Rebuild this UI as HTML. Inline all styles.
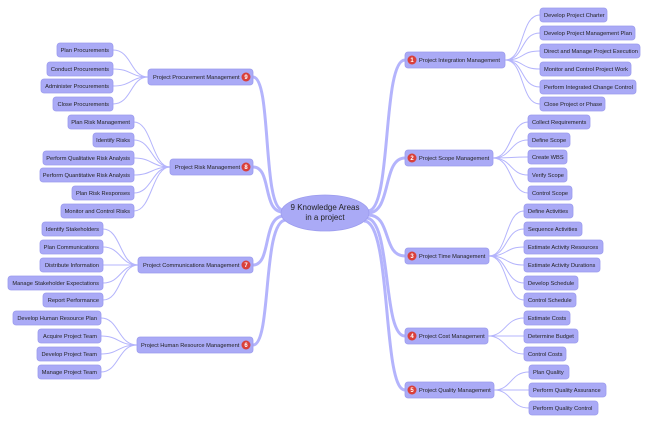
<!DOCTYPE html>
<html><head><meta charset="utf-8"><style>
html,body{margin:0;padding:0;background:#fff;width:650px;height:423px;overflow:hidden}
text{font-family:"Liberation Sans",sans-serif;font-size:5.7px;fill:#222}
.b{fill:#aaaaf6;stroke:#9c9cee;stroke-width:0.8}
.l{fill:none;stroke:#b4b4fc;stroke-width:1}
.m{fill:none;stroke:#b4b4fc;stroke-width:3}
</style></head><body>
<svg width="650" height="423" viewBox="0 0 650 423" xmlns="http://www.w3.org/2000/svg">
<path class="m" d="M368 211 C392 211 382 60 405 60"/>
<path class="m" d="M368 213 C392 213 382 158 405 158"/>
<path class="m" d="M368 215 C392 215 382 256 405 256"/>
<path class="m" d="M366 218 C392 218 382 336 405 336"/>
<path class="m" d="M364 221 C392 221 382 390 405 390"/>
<path class="m" d="M283 210 C262 210 272 77 253 77"/>
<path class="m" d="M283 212 C262 212 272 167 253 167"/>
<path class="m" d="M284 216 C262 216 272 265 253 265"/>
<path class="m" d="M286 220 C262 220 272 345 253 345"/>
<ellipse cx="325" cy="213" rx="44" ry="18" fill="#aaaaf6" stroke="#9c9cee" stroke-width="0.8"/>
<text x="325" y="210" text-anchor="middle" style="font-size:8px">9 Knowledge Areas</text>
<text x="325" y="220" text-anchor="middle" style="font-size:8px">in a project</text>

<g class="l">
<path d="M505 60 C525 60 520 15 540 15"/><path d="M505 60 C525 60 520 33 540 33"/><path d="M505 60 C525 60 520 51 540 51"/><path d="M505 60 C525 60 520 69 540 69"/><path d="M505 60 C525 60 520 87 540 87"/><path d="M505 60 C525 60 520 104 540 104"/>
<path d="M493 158 C512 158 510 122 528 122"/><path d="M493 158 C512 158 510 140 528 140"/><path d="M493 158 C512 158 510 157 528 157"/><path d="M493 158 C512 158 510 175 528 175"/><path d="M493 158 C512 158 510 193 528 193"/>
<path d="M489 256 C508 256 505 211 524 211"/><path d="M489 256 C508 256 505 229 524 229"/><path d="M489 256 C508 256 505 247 524 247"/><path d="M489 256 C508 256 505 265 524 265"/><path d="M489 256 C508 256 505 283 524 283"/><path d="M489 256 C508 256 505 300 524 300"/>
<path d="M488 336 C506 336 505 318 524 318"/><path d="M488 336 C506 336 505 336 524 336"/><path d="M488 336 C506 336 505 354 524 354"/>
<path d="M494 390 C512 390 510 372 529 372"/><path d="M494 390 C512 390 510 390 529 390"/><path d="M494 390 C512 390 510 408 529 408"/>
<path d="M148 77 C130 77 132 50 113 50"/><path d="M148 77 C130 77 132 69 113 69"/><path d="M148 77 C130 77 132 86 113 86"/><path d="M148 77 C130 77 132 104 113 104"/>
<path d="M170 167 C152 167 152 122 134 122"/><path d="M170 167 C152 167 152 140 134 140"/><path d="M170 167 C152 167 152 158 134 158"/><path d="M170 167 C152 167 152 175 134 175"/><path d="M170 167 C152 167 152 193 134 193"/><path d="M170 167 C152 167 152 211 134 211"/>
<path d="M138 265 C120 265 121 229 103 229"/><path d="M138 265 C120 265 121 247 103 247"/><path d="M138 265 C120 265 121 265 103 265"/><path d="M138 265 C120 265 121 283 103 283"/><path d="M138 265 C120 265 121 300 103 300"/>
<path d="M137 345 C118 345 119 318 101 318"/><path d="M137 345 C118 345 119 336 101 336"/><path d="M137 345 C118 345 119 354 101 354"/><path d="M137 345 C118 345 119 372 101 372"/>
</g>

<g>
<rect class="b" x="405" y="52" width="100" height="16" rx="3"/><circle cx="412" cy="60" r="4.5" fill="#d9403a"/><text x="412" y="62.2" text-anchor="middle" style="fill:#fff;font-weight:bold;font-size:6px">1</text><text x="419" y="62.2">Project Integration Management</text>
<rect class="b" x="405" y="150" width="88" height="16" rx="3"/><circle cx="412" cy="158" r="4.5" fill="#d9403a"/><text x="412" y="160.2" text-anchor="middle" style="fill:#fff;font-weight:bold;font-size:6px">2</text><text x="419" y="160.2">Project Scope Management</text>
<rect class="b" x="405" y="248" width="84" height="16" rx="3"/><circle cx="412" cy="256" r="4.5" fill="#d9403a"/><text x="412" y="258.2" text-anchor="middle" style="fill:#fff;font-weight:bold;font-size:6px">3</text><text x="419" y="258.2">Project Time Management</text>
<rect class="b" x="405" y="328" width="83" height="16" rx="3"/><circle cx="412" cy="336" r="4.5" fill="#d9403a"/><text x="412" y="338.2" text-anchor="middle" style="fill:#fff;font-weight:bold;font-size:6px">4</text><text x="419" y="338.2">Project Cost Management</text>
<rect class="b" x="405" y="382" width="89" height="16" rx="3"/><circle cx="412" cy="390" r="4.5" fill="#d9403a"/><text x="412" y="392.2" text-anchor="middle" style="fill:#fff;font-weight:bold;font-size:6px">5</text><text x="419" y="392.2">Project Quality Management</text>
<rect class="b" x="148" y="69" width="105" height="16" rx="3"/><text x="153" y="79.2">Project Procurement Management</text><circle cx="246" cy="77" r="4.5" fill="#d9403a"/><text x="246" y="79.2" text-anchor="middle" style="fill:#fff;font-weight:bold;font-size:6px">9</text>
<rect class="b" x="170" y="159" width="83" height="16" rx="3"/><text x="175" y="169.2">Project Risk Management</text><circle cx="246" cy="167" r="4.5" fill="#d9403a"/><text x="246" y="169.2" text-anchor="middle" style="fill:#fff;font-weight:bold;font-size:6px">8</text>
<rect class="b" x="138" y="257" width="115" height="16" rx="3"/><text x="143" y="267.2">Project Communications Management</text><circle cx="246" cy="265" r="4.5" fill="#d9403a"/><text x="246" y="267.2" text-anchor="middle" style="fill:#fff;font-weight:bold;font-size:6px">7</text>
<rect class="b" x="137" y="337" width="116" height="16" rx="3"/><text x="141" y="347.2">Project Human Resource Management</text><circle cx="246" cy="345" r="4.5" fill="#d9403a"/><text x="246" y="347.2" text-anchor="middle" style="fill:#fff;font-weight:bold;font-size:6px">6</text>
</g>

<g>
<rect class="b" x="540" y="8" width="67" height="14" rx="3"/><text x="544" y="17">Develop Project Charter</text>
<rect class="b" x="540" y="26" width="95" height="14" rx="3"/><text x="544" y="35">Develop Project Management Plan</text>
<rect class="b" x="540" y="44" width="100" height="14" rx="3"/><text x="544" y="53">Direct and Manage Project Execution</text>
<rect class="b" x="540" y="62" width="91" height="14" rx="3"/><text x="544" y="71">Monitor and Control Project Work</text>
<rect class="b" x="540" y="80" width="96" height="14" rx="3"/><text x="544" y="89">Perform Integrated Change Control</text>
<rect class="b" x="540" y="97" width="65" height="14" rx="3"/><text x="544" y="106">Close Project or Phase</text>
<rect class="b" x="528" y="115" width="62" height="14" rx="3"/><text x="532" y="124">Collect Requirements</text>
<rect class="b" x="528" y="133" width="42" height="14" rx="3"/><text x="532" y="142">Define Scope</text>
<rect class="b" x="528" y="150" width="39" height="14" rx="3"/><text x="532" y="159">Create WBS</text>
<rect class="b" x="528" y="168" width="39" height="14" rx="3"/><text x="532" y="177">Verify Scope</text>
<rect class="b" x="528" y="186" width="44" height="14" rx="3"/><text x="532" y="195">Control Scope</text>
<rect class="b" x="524" y="204" width="49" height="14" rx="3"/><text x="528" y="213">Define Activities</text>
<rect class="b" x="524" y="222" width="58" height="14" rx="3"/><text x="528" y="231">Sequence Activities</text>
<rect class="b" x="524" y="240" width="79" height="14" rx="3"/><text x="528" y="249">Estimate Activity Resources</text>
<rect class="b" x="524" y="258" width="76" height="14" rx="3"/><text x="528" y="267">Estimate Activity Durations</text>
<rect class="b" x="524" y="276" width="54" height="14" rx="3"/><text x="528" y="285">Develop Schedule</text>
<rect class="b" x="524" y="293" width="52" height="14" rx="3"/><text x="528" y="302">Control Schedule</text>
<rect class="b" x="524" y="311" width="46" height="14" rx="3"/><text x="528" y="320">Estimate Costs</text>
<rect class="b" x="524" y="329" width="54" height="14" rx="3"/><text x="528" y="338">Determine Budget</text>
<rect class="b" x="524" y="347" width="42" height="14" rx="3"/><text x="528" y="356">Control Costs</text>
<rect class="b" x="529" y="365" width="40" height="14" rx="3"/><text x="533" y="374">Plan Quality</text>
<rect class="b" x="529" y="383" width="77" height="14" rx="3"/><text x="533" y="392">Perform Quality Assurance</text>
<rect class="b" x="529" y="401" width="69" height="14" rx="3"/><text x="533" y="410">Perform Quality Control</text>
</g>
<g text-anchor="end">
<rect class="b" x="57" y="43" width="56" height="14" rx="3"/><text x="109" y="52">Plan Procurements</text>
<rect class="b" x="47" y="62" width="66" height="14" rx="3"/><text x="109" y="71">Conduct Procurements</text>
<rect class="b" x="41" y="79" width="72" height="14" rx="3"/><text x="109" y="88">Administer Procurements</text>
<rect class="b" x="53" y="97" width="60" height="14" rx="3"/><text x="109" y="106">Close Procurements</text>
<rect class="b" x="68" y="115" width="66" height="14" rx="3"/><text x="130" y="124">Plan Risk Management</text>
<rect class="b" x="93" y="133" width="41" height="14" rx="3"/><text x="130" y="142">Identify Risks</text>
<rect class="b" x="43" y="151" width="91" height="14" rx="3"/><text x="130" y="160">Perform Qualitative Risk Analysis</text>
<rect class="b" x="40" y="168" width="94" height="14" rx="3"/><text x="130" y="177">Perform Quantitative Risk Analysis</text>
<rect class="b" x="72" y="186" width="62" height="14" rx="3"/><text x="130" y="195">Plan Risk Responses</text>
<rect class="b" x="61" y="204" width="73" height="14" rx="3"/><text x="130" y="213">Monitor and Control Risks</text>
<rect class="b" x="42" y="222" width="61" height="14" rx="3"/><text x="99" y="231">Identify Stakeholders</text>
<rect class="b" x="40" y="240" width="63" height="14" rx="3"/><text x="99" y="249">Plan Communications</text>
<rect class="b" x="40" y="258" width="63" height="14" rx="3"/><text x="99" y="267">Distribute Information</text>
<rect class="b" x="8" y="276" width="95" height="14" rx="3"/><text x="99" y="285">Manage Stakeholder Expectations</text>
<rect class="b" x="43" y="293" width="60" height="14" rx="3"/><text x="99" y="302">Report Performance</text>
<rect class="b" x="13" y="311" width="88" height="14" rx="3"/><text x="97" y="320">Develop Human Resource Plan</text>
<rect class="b" x="38" y="329" width="63" height="14" rx="3"/><text x="97" y="338">Acquire Project Team</text>
<rect class="b" x="37" y="347" width="64" height="14" rx="3"/><text x="97" y="356">Develop Project Team</text>
<rect class="b" x="38" y="365" width="63" height="14" rx="3"/><text x="97" y="374">Manage Project Team</text>
</g>
</svg>
</body></html>
